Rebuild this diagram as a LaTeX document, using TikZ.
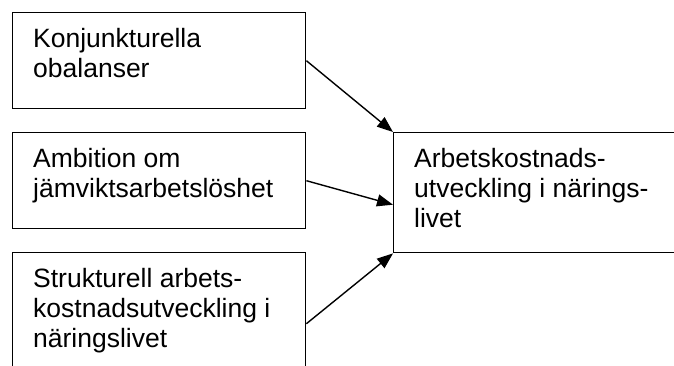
\documentclass[tikz,border=0pt]{standalone}
\usepackage{fontspec}
\setmainfont{Liberation Sans}
\usetikzlibrary{arrows.meta}
\begin{document}
\begin{tikzpicture}[x=1pt,y=-1pt,
 box/.style={draw, line width=1.4pt, rectangle, inner sep=0pt, anchor=north west},
 txt/.style={anchor=north west, inner sep=0pt, align=left, font=\fontsize{26.5}{30}\selectfont},
 arr/.style={line width=1.4pt, -{Triangle[length=16pt,width=12pt]}}]
\useasboundingbox (0,0) rectangle (674,365);
\clip (0,0) rectangle (674,365);
\node[box, minimum width=293pt, minimum height=96pt] (b1) at (12,12) {};
\node[box, minimum width=293pt, minimum height=96pt] (b2) at (12,132) {};
\node[box, minimum width=293pt, minimum height=142pt] (b3) at (12,252) {};
\node[box, minimum width=320pt, minimum height=120pt] (r) at (393,132) {};
\node[txt] (t1) at (33,23) {\rule{0pt}{24pt}Konjunkturella\\obalanser};
\node[txt] (t2) at (33,143) {\rule{0pt}{24pt}Ambition om\\jämviktsarbetslöshet};
\node[txt] (t3) at (33,263) {\rule{0pt}{24pt}Strukturell arbets-\\kostnadsutveckling i\\näringslivet};
\node[txt] (tr) at (414,143) {\rule{0pt}{24pt}Arbetskostnads-\\utveckling i närings-\\livet};
\draw[arr] (b1.east) -- (r.north west);
\draw[arr] (b2.east) -- ([yshift=-12pt]r.west);
\draw[arr] (b3.east) -- (r.south west);
\end{tikzpicture}
\end{document}
